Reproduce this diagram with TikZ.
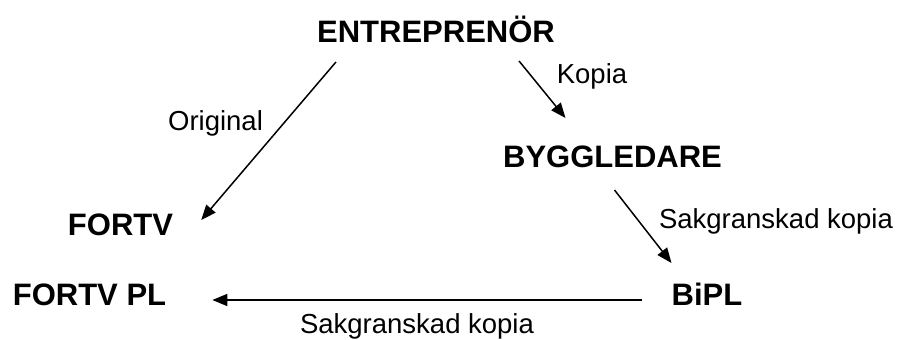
\documentclass[tikz,border=0pt]{standalone}
\usepackage{fontspec}
\setmainfont{Liberation Sans}
\usepackage{tikz}
\usetikzlibrary{arrows.meta,positioning}

\begin{document}
\begin{tikzpicture}[x=1pt, y=-1pt,
                          party/.style={inner sep=0pt, anchor=base, font=\fontsize{31}{36}\selectfont\bfseries},
                          note/.style={inner sep=0pt, anchor=base, font=\fontsize{27.5}{33}\selectfont},
                          flow/.style={line width=1.5pt, black, -{Triangle[length=15pt,width=12pt]}},
                         ]

\useasboundingbox (0,0) rectangle (898,340);

\node[party] (entr) at (436,42) {ENTREPRENÖR};
\node[party] (bygg) at (612.5,167) {BYGGLEDARE};
\node[party] (fortv) at (120.5,235) {FORTV};
\node[party] (fortvpl) at (89.5,305) {FORTV PL};
\node[party] (bipl) at (707,305) {BiPL};

\node[note] (kopia) at (592,83) {Kopia};
\node[note] (orig) at (215.5,130) {Original};
\node[note] (sakright) at (776,228) {Sakgranskad kopia};
\node[note] (sakbottom) at (417,333) {Sakgranskad kopia};

\draw[flow] ([xshift=19pt,yshift=-20pt]entr.base west) -- ([xshift=28pt,yshift=15pt]fortv.base east);
\draw[flow] ([xshift=-36pt,yshift=-19pt]entr.base east) -- ([xshift=-47pt,yshift=49pt]bygg.base);
\draw[flow] ([xshift=2pt,yshift=-23pt]bygg.base) -- ([yshift=42pt]bipl.base west);
\draw[flow] ([xshift=-29pt,yshift=5pt]bipl.base west) -- ([xshift=46pt,yshift=5pt]fortvpl.base east);

\end{tikzpicture}
\end{document}
